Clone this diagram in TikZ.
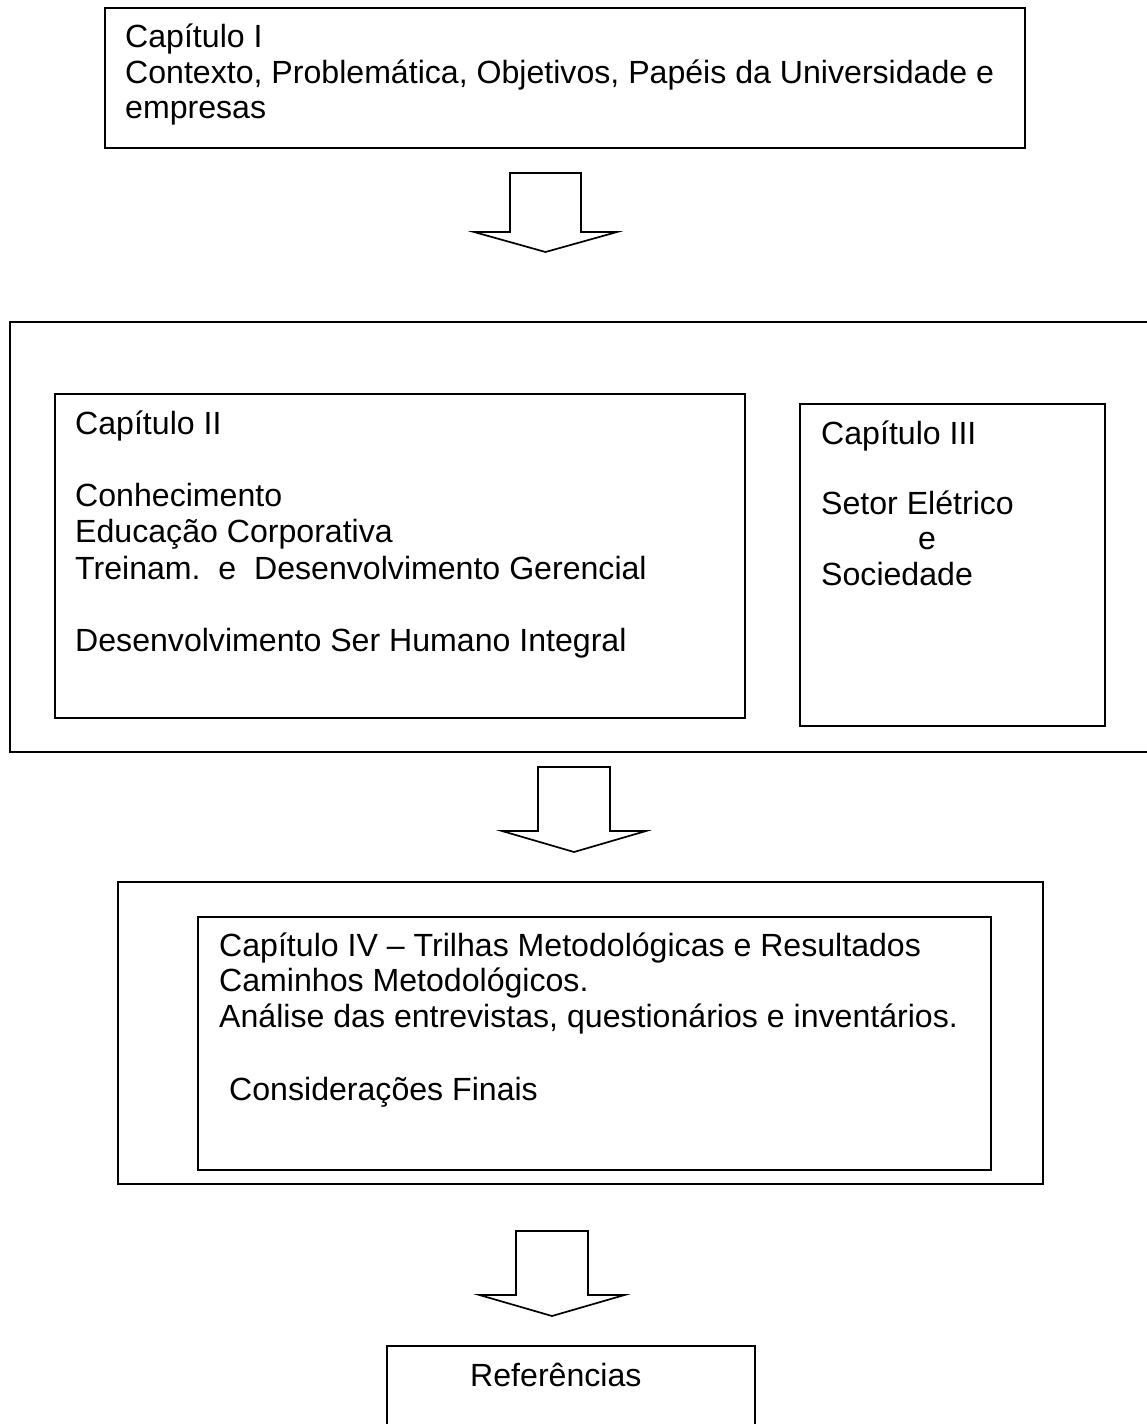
\documentclass[tikz,border=0pt]{standalone}
\usepackage{fontspec}
\setmainfont{Liberation Sans}
\begin{document}
\begin{tikzpicture}[x=1bp,y=-1bp,
  box/.style={draw, line width=1.8bp, inner sep=0pt, anchor=north west},
  txt/.style={anchor=base west, inner sep=0pt, font=\fontsize{32.1bp}{36bp}\selectfont},
  blk/.style={draw, line width=1.7bp, line join=miter}]
\useasboundingbox (0,0) rectangle (1146,1424);

% Chapter I
\node[box, minimum width=920bp, minimum height=140bp] (cap1) at (104,7) {};
\node[txt] (c1a) at (125,48) {Capítulo I};
\node[txt] (c1b) at (125,83.5) {Contexto, Problemática, Objetivos, Papéis da Universidade e};
\node[txt] (c1c) at (125,119) {empresas};

% arrow 1
\coordinate (a1) at (545.5,173);
\draw[blk] (a1) ++(-35.5,0) -- ++(71,0) -- ++(0,59) -- ++(36,0) -- ++(-71.5,20) -- ++(-71.5,-20) -- ++(36,0) -- cycle;

% Chapters II and III
\node[box, minimum width=1141bp, minimum height=430bp] (outer23) at (9,321) {};
\node[box, minimum width=690bp, minimum height=324bp] (cap2) at (54,393) {};
\node[txt] (c2a) at (75,434) {Capítulo II};
\node[txt] (c2b) at (75,506.6) {Conhecimento};
\node[txt] (c2c) at (75,542.9) {Educação Corporativa};
\node[txt] (c2d) at (75,579.2) {Treinam.\ \ e\ \ Desenvolvimento Gerencial};
\node[txt] (c2e) at (75,651.8) {Desenvolvimento Ser Humano Integral};

\node[box, minimum width=305bp, minimum height=322bp] (cap3) at (799,403) {};
\node[txt] (c3a) at (821,444) {Capítulo III};
\node[txt] (c3b) at (821,514) {Setor Elétrico};
\node[txt] (c3c) at (918,549) {e};
\node[txt] (c3d) at (821,585) {Sociedade};

% arrow 2
\coordinate (a2) at (574,767);
\draw[blk] (a2) ++(-36,0) -- ++(72,0) -- ++(0,64) -- ++(36,0) -- ++(-72,21) -- ++(-72,-21) -- ++(36,0) -- cycle;

% Chapter IV
\node[box, minimum width=925bp, minimum height=302bp] (outer4) at (117,881) {};
\node[box, minimum width=793bp, minimum height=253bp] (cap4) at (197,916) {};
\node[txt] (c4a) at (219,956) {Capítulo IV – Trilhas Metodológicas e Resultados};
\node[txt] (c4b) at (219,991.5) {Caminhos Metodológicos.};
\node[txt] (c4c) at (219,1027.5) {Análise das entrevistas, questionários e inventários.};
\node[txt] (c4d) at (229,1100) {Considerações Finais};

% arrow 3
\coordinate (a3) at (552,1231);
\draw[blk] (a3) ++(-36,0) -- ++(72,0) -- ++(0,64) -- ++(36.5,0) -- ++(-72.5,21) -- ++(-72.5,-21) -- ++(36.5,0) -- cycle;

% References
\node[box, minimum width=368bp, minimum height=90bp] (refs) at (386,1345) {};
\node[txt] (r1) at (470,1386) {Referências};
\end{tikzpicture}
\end{document}
